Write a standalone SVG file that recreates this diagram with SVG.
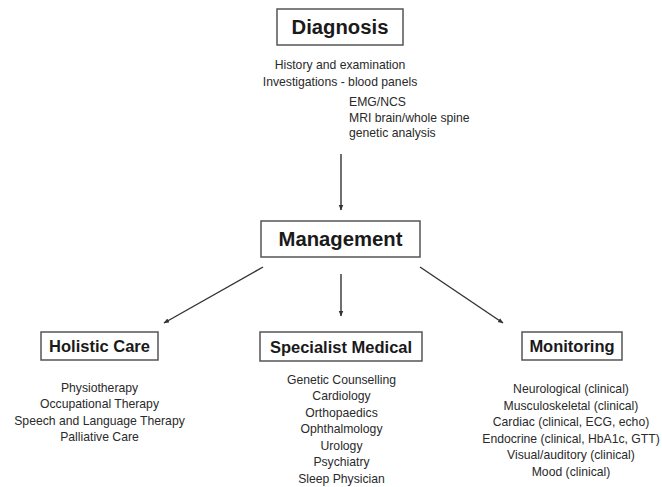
<svg xmlns="http://www.w3.org/2000/svg" width="662" height="487" viewBox="0 0 662 487">
<style>
.box{fill:#fff;stroke:#555;stroke-width:1.5}
.title{font-family:"Liberation Sans",Arial,sans-serif;font-weight:bold;fill:#1a1a1a;text-anchor:middle}
.t20{font-size:20.3px}
.t16{font-size:16.5px}
.item{font-family:"Liberation Sans",Arial,sans-serif;font-size:12.2px;fill:#2a2a2a;text-anchor:middle}
.left{text-anchor:start}
.conn{stroke:#333;stroke-width:1.4;fill:none;marker-end:url(#ah)}
</style>
<defs>
<marker id="ah" viewBox="0 0 10 10" refX="9" refY="5" markerWidth="4" markerHeight="4" orient="auto" markerUnits="strokeWidth">
<path d="M0,1 L10,5 L0,9 Z" fill="#333"/>
</marker>
</defs>
<rect width="662" height="487" fill="#fff"/>
<g id="connectors">
<line class="conn" x1="341" y1="154" x2="341" y2="210"/>
<line class="conn" x1="263" y1="267" x2="164" y2="323"/>
<line class="conn" x1="341" y1="274" x2="341" y2="316"/>
<line class="conn" x1="420" y1="267" x2="503" y2="323"/>
</g>
<g id="diagnosis">
<rect class="box" x="277" y="9" width="126" height="36"/>
<text class="title t20" x="340" y="34">Diagnosis</text>
<text class="item" x="340" y="69">History and examination</text>
<text class="item" x="340" y="85.5">Investigations - blood panels</text>
<text class="item left" x="349" y="106">EMG/NCS</text>
<text class="item left" x="349" y="121.5">MRI brain/whole spine</text>
<text class="item left" x="349" y="137">genetic analysis</text>
</g>
<g id="management">
<rect class="box" x="261" y="221" width="159" height="36"/>
<text class="title t20" x="340.5" y="246">Management</text>
</g>
<g id="holistic">
<rect class="box" x="41" y="332" width="117" height="28"/>
<text class="title t16" x="99.5" y="352">Holistic Care</text>
<text class="item" x="99.5" y="391.5">Physiotherapy</text>
<text class="item" x="99.5" y="408">Occupational Therapy</text>
<text class="item" x="99.5" y="424.5">Speech and Language Therapy</text>
<text class="item" x="99.5" y="441">Palliative Care</text>
</g>
<g id="specialist">
<rect class="box" x="260" y="332" width="162" height="29"/>
<text class="title t16" x="341" y="352.5">Specialist Medical</text>
<text class="item" x="341.5" y="383.5">Genetic Counselling</text>
<text class="item" x="341.5" y="400">Cardiology</text>
<text class="item" x="341.5" y="416.5">Orthopaedics</text>
<text class="item" x="341.5" y="433">Ophthalmology</text>
<text class="item" x="341.5" y="449.5">Urology</text>
<text class="item" x="341.5" y="466">Psychiatry</text>
<text class="item" x="341.5" y="482.5">Sleep Physician</text>
</g>
<g id="monitoring">
<rect class="box" x="522" y="332" width="100" height="28"/>
<text class="title t16" x="572" y="352">Monitoring</text>
<text class="item" x="571" y="393">Neurological (clinical)</text>
<text class="item" x="571" y="409.5">Musculoskeletal (clinical)</text>
<text class="item" x="571" y="426">Cardiac (clinical, ECG, echo)</text>
<text class="item" x="571" y="442.5">Endocrine (clinical, HbA1c, GTT)</text>
<text class="item" x="571" y="459">Visual/auditory (clinical)</text>
<text class="item" x="571" y="475.5">Mood (clinical)</text>
</g>
</svg>
